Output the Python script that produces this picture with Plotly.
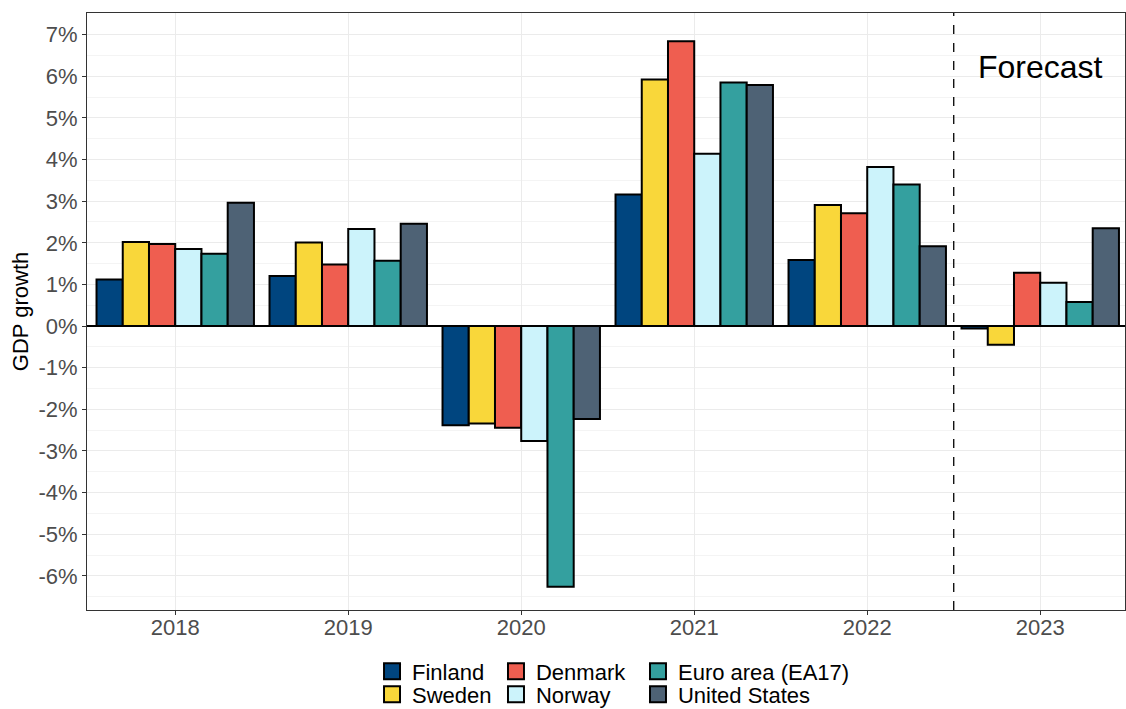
import plotly.graph_objects as go

years = ["2018", "2019", "2020", "2021", "2022", "2023"]
finland = [1.12, 1.20, -2.38, 3.16, 1.59, -0.06]
sweden = [2.02, 2.01, -2.34, 5.92, 2.91, -0.45]
denmark = [1.97, 1.48, -2.44, 6.84, 2.71, 1.28]
norway = [1.85, 2.33, -2.76, 4.14, 3.82, 1.04]
euro_area = [1.74, 1.57, -6.26, 5.85, 3.40, 0.58]
united_states = [2.96, 2.46, -2.23, 5.79, 1.92, 2.35]

series_names = ["Finland", "Sweden", "Denmark", "Norway", "Euro area (EA17)", "United States"]
series_values = [finland, sweden, denmark, norway, euro_area, united_states]
colors = ["#00457F", "#F9D73A", "#EF5E50", "#CCF3FB", "#34A09F", "#4E6275"]

y_ticks = [-6, -5, -4, -3, -2, -1, 0, 1, 2, 3, 4, 5, 6, 7]
y_labels = [f"{v}%" for v in y_ticks]

FONT = "Liberation Sans, Arial, sans-serif"

# legend placement (paper coords): column x, row y
leg_x = [0.2746, 0.2746, 0.394, 0.394, 0.5308, 0.5308]
leg_y = [-0.1030, -0.1415, -0.1030, -0.1415, -0.1030, -0.1415]
legend_ids = ["legend", "legend2", "legend3", "legend4", "legend5", "legend6"]

fig = go.Figure()
for name, vals, col in zip(series_names, series_values, colors):
    fig.add_trace(go.Bar(
        x=years, y=vals, name=name, showlegend=False,
        marker=dict(color=col, line=dict(color="black", width=2)),
    ))
# legend swatches
for name, col, lg in zip(series_names, colors, legend_ids):
    fig.add_trace(go.Scatter(
        x=[None], y=[None], mode="markers", name=name, legend=lg,
        marker=dict(symbol="square", size=16, color=col, line=dict(color="black", width=2)),
    ))

fig.add_shape(type="line", xref="x", yref="paper", x0=4.5, x1=4.5, y0=0, y1=1,
              line=dict(color="black", width=1.3, dash="dash"))
fig.add_annotation(x=5, y=6.22, xref="x", yref="y", text="Forecast", showarrow=False,
                   font=dict(family=FONT, size=32, color="black"))

legends = {}
for lg, lx, ly in zip(legend_ids, leg_x, leg_y):
    legends[lg] = dict(orientation="v", x=lx, y=ly, xanchor="left", yanchor="middle",
                       font=dict(family=FONT, size=22, color="black"),
                       bgcolor="rgba(0,0,0,0)", itemsizing="trace")

fig.update_layout(
    width=1126, height=709, autosize=False,
    margin=dict(l=87, r=1, t=13, b=99, autoexpand=False),
    paper_bgcolor="white", plot_bgcolor="white",
    barmode="group", bargap=0.09, bargroupgap=0,
    font=dict(family=FONT, color="#4D4D4D"),
    xaxis=dict(
        type="category", range=[-0.51, 5.49], automargin=False,
        showgrid=True, gridcolor="#EBEBEB", gridwidth=1,
        showline=True, linecolor="#333333", linewidth=1, mirror=True,
        ticks="outside", ticklen=4, tickcolor="#333333",
        tickfont=dict(size=22, color="#4D4D4D"), ticklabelstandoff=-6,
    ),
    yaxis=dict(
        range=[-6.82, 7.52], automargin=False,
        tickvals=y_ticks, ticktext=y_labels,
        showgrid=True, gridcolor="#EBEBEB", gridwidth=1,
        minor=dict(dtick=0.5, showgrid=True, gridcolor="#F4F4F4", gridwidth=1),
        zeroline=True, zerolinecolor="black", zerolinewidth=1.5,
        showline=True, linecolor="#333333", linewidth=1, mirror=True,
        ticks="outside", ticklen=4, tickcolor="#333333",
        tickfont=dict(size=22, color="#4D4D4D"),
        title=dict(text="GDP growth", font=dict(size=22, color="black"), standoff=3),
    ),
    **legends,
)

post = ("document.body.style.margin='0';document.body.style.padding='0';"
        "var gd=document.getElementById('{plot_id}');"
        "Plotly.relayout(gd,{width:1126,height:709});")
fig.write_html("out.html", post_script=post, config={"displayModeBar": False})
